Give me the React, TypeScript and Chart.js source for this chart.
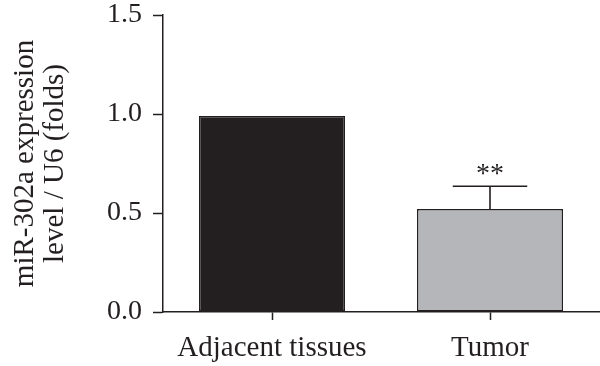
import React, { useEffect, useRef } from "react";
import { Chart, registerables } from "chart.js";

Chart.register(...registerables);

const categories = ["Adjacent tissues", "Tumor"];
const values = [0.99, 0.52];
const errors = [0, 0.115];
const significance = ["", "**"];
const yTicks = [0, 0.5, 1.0, 1.5];
const barColors = ["#231f20", "#b5b6b9"];
const yTitle = ["miR-302a expression", "level / U6 (folds)"];

const INK = "#231f20";
const FONT = "'Liberation Serif', 'Times New Roman', serif";

const errorBarPlugin = {
  id: "errorBars",
  afterDatasetsDraw(chart: any) {
    const { ctx, scales } = chart;
    const meta = chart.getDatasetMeta(0);
    const y = scales.y;
    ctx.save();
    meta.data.forEach((bar: any, i: number) => {
      const err = errors[i];
      const x = bar.x;
      const top = y.getPixelForValue(values[i] + err);
      if (err > 0) {
        const base = y.getPixelForValue(values[i]);
        const capHalf = bar.width * 0.255;
        ctx.strokeStyle = INK;
        ctx.lineWidth = 1.6;
        ctx.beginPath();
        ctx.moveTo(x, base);
        ctx.lineTo(x, top);
        ctx.moveTo(x - capHalf, top);
        ctx.lineTo(x + capHalf, top);
        ctx.stroke();
      }
      if (significance[i]) {
        ctx.fillStyle = INK;
        ctx.font = `28px ${FONT}`;
        ctx.textAlign = "center";
        ctx.textBaseline = "alphabetic";
        ctx.fillText(significance[i], x, top - 4);
      }
    });
    ctx.restore();
  },
};

export default function App() {
  const ref = useRef<HTMLCanvasElement>(null);
  useEffect(() => {
    const chart = new Chart(ref.current!, {
      type: "bar",
      data: {
        labels: categories,
        datasets: [
          {
            data: values,
            backgroundColor: barColors,
            borderColor: INK,
            borderWidth: 1.5,
            borderSkipped: false,
            barPercentage: 0.67,
            categoryPercentage: 1,
          },
        ],
      },
      options: {
        animation: false,
        responsive: false,
        maintainAspectRatio: false,
        layout: { padding: { top: 0, left: 10, right: 1, bottom: 0 } },
        plugins: { legend: { display: false }, tooltip: { enabled: false } },
        scales: {
          x: {
            offset: true,
            afterFit: (scale: any) => {
              scale.height = 54;
              scale.paddingLeft = 0;
              scale.paddingRight = 0;
            },
            grid: {
              offset: false,
              drawOnChartArea: false,
              drawTicks: true,
              tickLength: 8,
              tickWidth: 1.5,
              tickColor: INK,
            },
            border: { color: INK, width: 1.5 },
            ticks: {
              color: INK,
              padding: 13,
              font: { family: FONT, size: 29, lineHeight: 1.05 },
              maxRotation: 0,
            },
          },
          y: {
            min: 0,
            max: 1.5,
            afterBuildTicks: (scale: any) => {
              scale.ticks = yTicks.map((v) => ({ value: v }));
            },
            afterFit: (scale: any) => {
              scale.width = 153;
              scale.paddingTop = 15;
              scale.paddingBottom = 0;
            },
            grid: {
              drawOnChartArea: false,
              drawTicks: true,
              tickLength: 10,
              tickWidth: 1.5,
              tickColor: INK,
            },
            border: { color: INK, width: 1.5 },
            ticks: {
              color: INK,
              padding: 11,
              font: { family: FONT, size: 28, lineHeight: 1.07 },
              callback: (v: any) => Number(v).toFixed(1),
            },
            title: {
              display: true,
              text: yTitle,
              color: INK,
              padding: { top: 0, bottom: 0 },
              font: { family: FONT, size: 29, lineHeight: 1.035 },
            },
          },
        },
      },
      plugins: [errorBarPlugin],
    });
    return () => chart.destroy();
  }, []);
  return (
    <div style={{ position: "fixed", left: 0, top: 0, width: 600, height: 366, background: "#fff" }}>
      <canvas ref={ref} width={600} height={366} style={{ display: "block", width: 600, height: 366 }} />
    </div>
  );
}
